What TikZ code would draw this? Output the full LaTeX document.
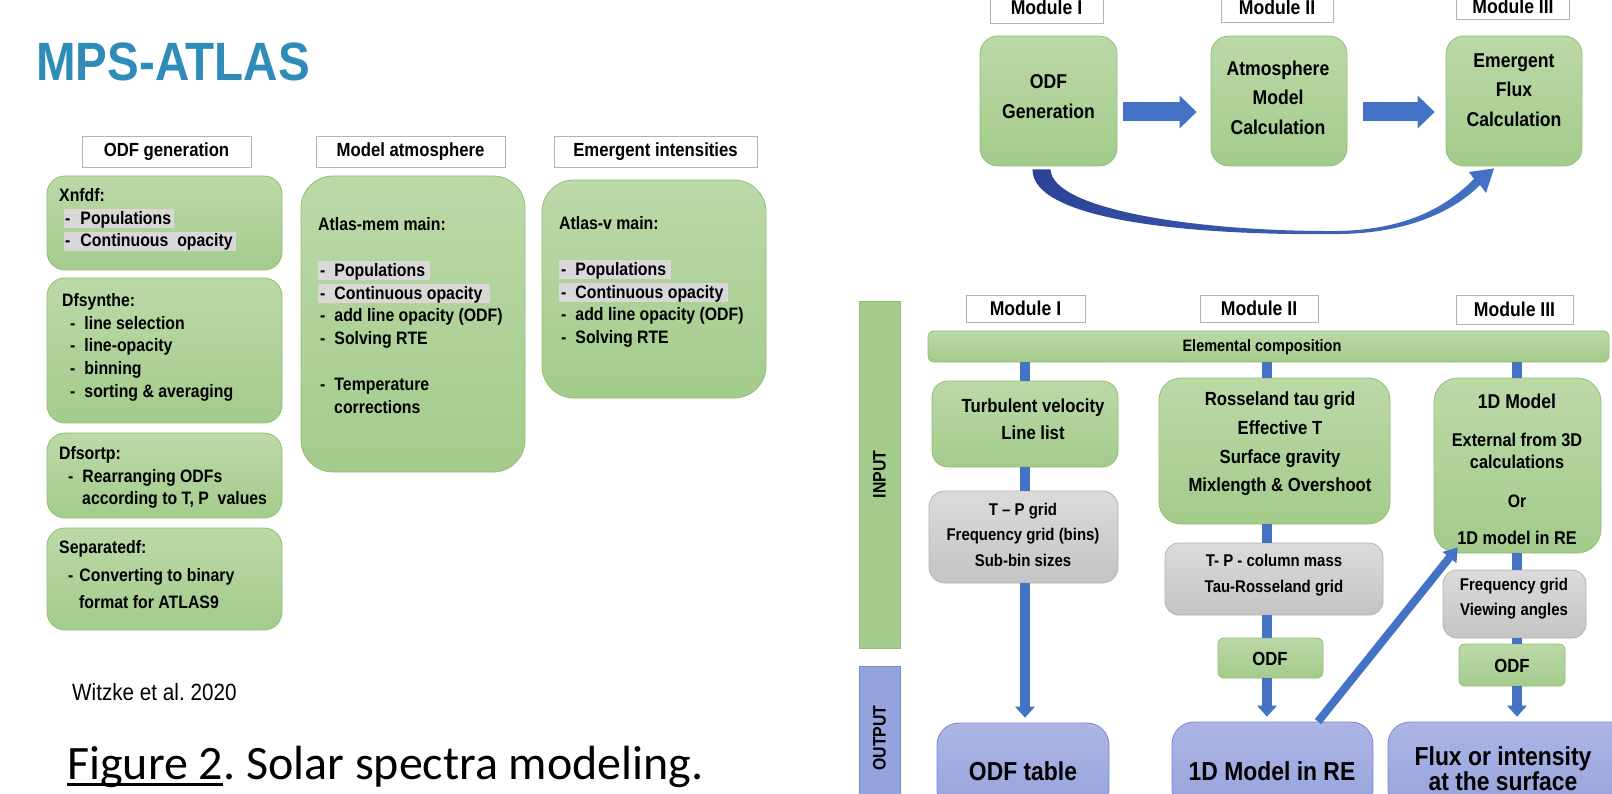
\documentclass[tikz,border=0pt]{standalone}
\usepackage{fontspec}
\setmainfont{Liberation Sans}[FakeStretch=0.88]
\newfontfamily\capfont{Carlito}
\usetikzlibrary{arrows.meta,fit}
\definecolor{TitleBlue}{RGB}{47,140,184}
\definecolor{GreenTop}{RGB}{188,217,168}
\definecolor{GreenBot}{RGB}{163,203,139}
\definecolor{GreenLine}{RGB}{143,191,114}
\definecolor{GreyTop}{RGB}{219,219,219}
\definecolor{GreyBot}{RGB}{196,196,196}
\definecolor{GreyLine}{RGB}{178,178,178}
\definecolor{BlueTop}{RGB}{172,181,229}
\definecolor{BlueBot}{RGB}{150,162,219}
\definecolor{BlueLine}{RGB}{120,136,206}
\definecolor{LinkBlue}{RGB}{68,114,196}
\definecolor{CurveDark}{RGB}{44,66,150}
\definecolor{HiGrey}{RGB}{216,216,216}
\newcommand{\fsz}[2]{\fontsize{#1}{#2}\selectfont}
\newcommand{\hili}[1]{{\setlength{\fboxsep}{0pt}\colorbox{HiGrey}{\rule[-3pt]{0pt}{18pt}#1}}}
\newcommand{\figul}[1]{\setbox0=\hbox{#1}\rlap{\rule[-7pt]{\wd0}{2.6pt}}\box0}
\frenchspacing
\tikzset{
  hbox/.style={draw=GreyLine, fill=white, line width=0.8pt, inner sep=0pt, font=\bfseries\fsz{19}{22}},
  gbox/.style={draw=GreenLine, line width=0.8pt, top color=GreenTop, bottom color=GreenBot, rounded corners=#1, inner sep=0pt},
  gbox/.default=16pt,
  greybox/.style={draw=GreyLine, line width=0.8pt, top color=GreyTop, bottom color=GreyBot, rounded corners=#1, inner sep=0pt},
  greybox/.default=14pt,
  bluebox/.style={draw=BlueLine, line width=0.8pt, top color=BlueTop, bottom color=BlueBot, rounded corners=22pt, inner sep=0pt},
  body/.style={anchor=north west, align=left, inner sep=0pt, font=\bfseries\fsz{18}{22.6}},
  txt/.style={align=center, inner sep=0pt, font=\bfseries\fsz{19}{27}},
  bar/.style={draw=#1Line, fill=#1Bot, line width=0.8pt, inner sep=0pt, rotate=90, font=\bfseries\fsz{18}{20}},
  link/.style={draw=LinkBlue, line width=10pt},
  linkarr/.style={link, shorten >=5pt, -{Triangle[width=20pt,length=11pt,line width=0pt]}},
  fat/.style={draw=LinkBlue, line width=19pt, -{Triangle[width=33pt,length=17pt,line width=0pt]}},
  diag/.style={draw=LinkBlue, line width=8pt, -{Triangle[width=18pt,length=13pt,line width=0pt]}}
}
\begin{document}
\begin{tikzpicture}[x=1pt,y=-1pt]
\useasboundingbox (0,0) rectangle (1612,794);
\clip (0,0) rectangle (1612,794);
%Title
\node[anchor=west, inner sep=0pt, text=TitleBlue, font=\bfseries\fsz{54}{60}] (title) at (36,62) {MPS-ATLAS};
%Left headers
\node[hbox, minimum width=169pt, minimum height=31pt] (hodf) at (166.5,151.5) {ODF generation};
\node[hbox, minimum width=189pt, minimum height=31pt] (hatm) at (410.5,152) {Model atmosphere};
\node[hbox, minimum width=203pt, minimum height=31pt] (hemi) at (655.5,152) {Emergent intensities};
%Left boxes
\node[gbox=18pt, fit={(47,176) (282,270)}] (xnf) {};
\node[gbox=18pt, fit={(47,278) (282,423)}] (dfsy) {};
\node[gbox=18pt, fit={(47,433) (282,518)}] (dfso) {};
\node[gbox=18pt, fit={(47,528) (282,630)}] (sepd) {};
\node[gbox=32pt, fit={(301,176) (525,472)}] (amem) {};
\node[gbox=32pt, fit={(542,180) (766,398)}] (atv) {};
\node[body] (xnft) at (59,188.5) {Xnfdf:\\
  \hspace*{5pt}\hili{\hspace*{1pt}-\hspace{10pt}Populations\hspace*{3pt}}\\
  \hspace*{5pt}\hili{\hspace*{1pt}-\hspace{10pt}Continuous\ \ opacity\hspace*{3pt}}};
\node[body] (dfsyt) at (62,293.5) {Dfsynthe:\\
  \hspace*{8pt}-\hspace{9pt}line selection\\
  \hspace*{8pt}-\hspace{9pt}line-opacity\\
  \hspace*{8pt}-\hspace{9pt}binning\\
  \hspace*{8pt}-\hspace{9pt}sorting \& averaging};
\node[body] (dfsot) at (59,446.5) {Dfsortp:\\
  \hspace*{9pt}-\hspace{9pt}Rearranging ODFs\\
  \hspace*{23pt}according to T, P\ \ values};
\node[body, font=\bfseries\fsz{18}{27.5}] (sepdt) at (59,540.5) {Separatedf:\\
  \hspace*{9pt}-\hspace{6pt}Converting to binary\\
  \hspace*{20pt}format for ATLAS9};
\node[body, font=\bfseries\fsz{18}{22.8}] (amemt) at (318,217.5) {Atlas-mem main:\\[22.8pt]
  \hili{\hspace*{2pt}-\hspace{9pt}Populations\hspace*{5pt}}\\
  \hili{\hspace*{2pt}-\hspace{9pt}Continuous opacity\hspace*{8pt}}\\
  \hspace*{2pt}-\hspace{9pt}add line opacity (ODF)\\
  \hspace*{2pt}-\hspace{9pt}Solving RTE\\[22.8pt]
  \hspace*{2pt}-\hspace{9pt}Temperature\\
  \hspace*{16pt}corrections};
\node[body, font=\bfseries\fsz{18}{22.8}] (atvt) at (559,216.5) {Atlas-v main:\\[22.8pt]
  \hili{\hspace*{2pt}-\hspace{9pt}Populations\hspace*{5pt}}\\
  \hili{\hspace*{2pt}-\hspace{9pt}Continuous opacity\hspace*{5pt}}\\
  \hspace*{2pt}-\hspace{9pt}add line opacity (ODF)\\
  \hspace*{2pt}-\hspace{9pt}Solving RTE};
%Reference and caption
\node[anchor=west, inner sep=0pt, font=\fsz{23.5}{26}] (cite) at (72,692) {Witzke et al. 2020};
\node[anchor=base west, inner sep=0pt, font=\capfont\fsz{48}{56}] (caption) at (67,779) {\figul{Figure 2}. Solar spectra modeling.};
%Modules (top)
\node[hbox, minimum width=113pt, minimum height=31pt, font=\bfseries\fsz{20}{22}] (ma1) at (1046.5,7.5) {Module I};
\node[hbox, minimum width=112pt, minimum height=30pt, font=\bfseries\fsz{20}{22}] (ma2) at (1277,7) {Module II};
\node[hbox, minimum width=113pt, minimum height=33pt] (ma3) at (1513,2.5) {};
\node[txt, font=\bfseries\fsz{20}{22}] (ma3t) at (1513,6.5) {Module III};
\node[gbox=18pt, fit={(980,36) (1117,166)}] (gen) {};
\node[gbox=18pt, fit={(1211,36) (1347,166)}] (atm) {};
\node[gbox=18pt, fit={(1446,36) (1582,166)}] (emg) {};
\node[txt, font=\bfseries\fsz{20}{30}] (gent) at (1048.5,97) {ODF\\Generation};
\node[txt, font=\bfseries\fsz{20}{29.5}] (atmt) at (1278,97.5) {Atmosphere\\Model\\Calculation};
\node[txt, font=\bfseries\fsz{20}{29.5}] (emgt) at (1514,90) {Emergent\\Flux\\Calculation};
\draw[fat] ([xshift=6pt,yshift=-11pt]gen.east) -- ([xshift=-14pt,yshift=-11pt]atm.west);
\draw[fat] ([xshift=16pt,yshift=-11pt]atm.east) -- ([xshift=-11pt,yshift=-11pt]emg.west);
\shade[left color=CurveDark, right color=LinkBlue] ([xshift=-16pt,yshift=-3pt]gen.south)
  .. controls (1032,220) and (1190,236) .. (1340,234)
  .. controls (1410,233) and (1455,210) .. (1480,185) -- (1486,193)
  -- ([xshift=-20pt,yshift=-2pt]emg.south) -- (1469,172) -- (1474,179)
  .. controls (1448,205) and (1410,229) .. (1340,231)
  .. controls (1200,232) and (1052,210) .. ([xshift=2pt,yshift=-3pt]gen.south) -- cycle;
%Input / output
\node[bar=Green, minimum width=347pt, minimum height=41pt] (input) at (879.5,474.5) {INPUT};
\node[bar=Blue, minimum width=144pt, minimum height=41pt] (output) at (879.5,738) {OUTPUT};
\node[hbox, minimum width=119pt, minimum height=27pt, font=\bfseries\fsz{20}{22}] (mb1) at (1025.5,308.5) {Module I};
\node[hbox, minimum width=118pt, minimum height=27pt, font=\bfseries\fsz{20}{22}] (mb2) at (1259,308.5) {Module II};
\node[hbox, minimum width=117pt, minimum height=29pt, font=\bfseries\fsz{20}{22}] (mb3) at (1514.5,309.5) {Module III};
\node[gbox=6pt, fit={(928,331) (1609,362)}] (elem) {};
\node[txt, font=\bfseries\fsz{16.5}{20}] (elemt) at (1262,347) {Elemental composition};
\coordinate (c1) at (1025,0);
\coordinate (c2) at (1267,0);
\coordinate (c3) at (1517,0);
%Column I
\node[gbox=16pt, fit={(932,381) (1118,467)}] (turb) {};
\node[txt] (turbt) at (1033,419.5) {Turbulent velocity\\Line list};
\node[greybox=16pt, fit={(929,491) (1118,583)}] (tpg) {};
\node[txt, font=\bfseries\fsz{17}{25.5}] (tpgt) at (1023,534.5) {T -- P grid\\Frequency grid (bins)\\Sub-bin sizes};
\node[bluebox, fit={(937,723) (1109,812)}] (odft) {};
\node[txt, font=\bfseries\fsz{26}{28}] (odftt) at (1023,771) {ODF table};
%Column II
\node[gbox=22pt, fit={(1159,378) (1390,524)}] (ross) {};
\node[txt, font=\bfseries\fsz{19}{28.7}] (rosst) at (1280,444) {Rosseland tau grid\\Effective T\\Surface gravity\\Mixlength \& Overshoot};
\node[greybox, fit={(1165,543) (1383,615)}] (tpc) {};
\node[txt, font=\bfseries\fsz{17}{26}] (tpct) at (1274,575) {T- P - column mass\\Tau-Rosseland grid};
\node[gbox=6pt, fit={(1218,638) (1323,678)}] (odf2) {};
\node[txt] (odf2t) at (1270,659) {ODF};
\node[bluebox, fit={(1172,722) (1373,812)}] (re) {};
\node[txt, font=\bfseries\fsz{26}{28}] (ret) at (1272,771) {1D Model in RE};
%Column III
\node[gbox=24pt, fit={(1434,378) (1601,553)}] (onem) {};
\node[txt, font=\bfseries\fsz{20}{22}] (onemt1) at (1517,401) {1D Model};
\node[txt, font=\bfseries\fsz{18.5}{22}] (onemt2) at (1517,451) {External from 3D\\calculations};
\node[txt, font=\bfseries\fsz{18}{20}] (onemt3) at (1517,501) {Or};
\node[txt, font=\bfseries\fsz{18.5}{20}] (onemt4) at (1517,538) {1D model in RE};
\node[greybox, fit={(1443,570) (1586,638)}] (fqg) {};
\node[txt, font=\bfseries\fsz{17}{25}] (fqgt) at (1514,598.5) {Frequency grid\\Viewing angles};
\node[gbox=6pt, fit={(1459,644) (1565,686)}] (odf3) {};
\node[txt] (odf3t) at (1512,666) {ODF};
\node[bluebox, fit={(1388,722) (1640,812)}] (flux) {};
\node[txt, font=\bfseries\fsz{26}{25}] (fluxt) at (1503,768.5) {Flux or intensity\\at the surface};
%Connectors
\draw[link] (c1 |- elem.south) -- (c1 |- turb.north);
\draw[link] (c1 |- turb.south) -- (c1 |- tpg.north);
\draw[linkarr] (c1 |- tpg.south) -- (c1 |- odft.north);
\draw[link] (c2 |- elem.south) -- (c2 |- ross.north);
\draw[link] (c2 |- ross.south) -- (c2 |- tpc.north);
\draw[link] (c2 |- tpc.south) -- (c2 |- odf2.north);
\draw[linkarr] (c2 |- odf2.south) -- (c2 |- re.north);
\draw[link] (c3 |- elem.south) -- (c3 |- onem.north);
\draw[link] (c3 |- onem.south) -- (c3 |- fqg.north);
\draw[link] (c3 |- fqg.south) -- (c3 |- odf3.north);
\draw[linkarr] (c3 |- odf3.south) -- (c3 |- flux.north);
\draw[diag] ([xshift=45.5pt]re.north) -- ([xshift=24pt,yshift=6pt]onem.south west);
\end{tikzpicture}
\end{document}
